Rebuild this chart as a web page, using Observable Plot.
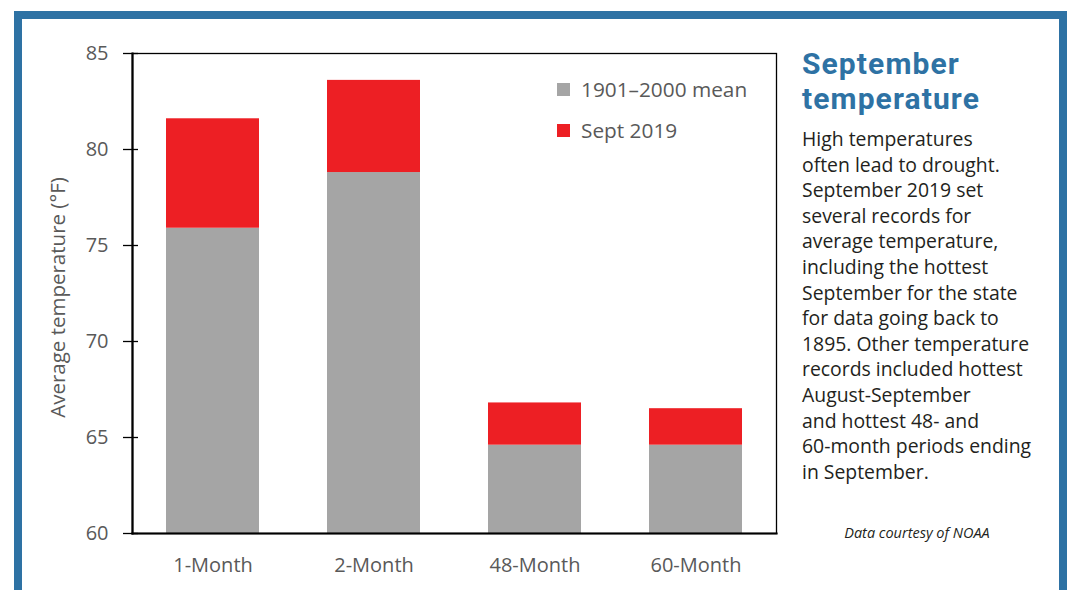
<!DOCTYPE html>
<html>
<head>
<meta charset="utf-8">
<script src="https://cdn.jsdelivr.net/npm/d3@7"></script>
<script src="https://cdn.jsdelivr.net/npm/@observablehq/plot@0.6"></script>
<style>
  html, body { margin: 0; padding: 0; background: #fff; }
  body { width: 1080px; height: 590px; overflow: hidden; position: relative; font-family: "Open Sans", sans-serif; }
  #frame { position: absolute; left: 14px; top: 11px; width: 1037px; height: 600px;
           border: 8px solid #2e72a4; border-bottom: none; }
  #chart { position: absolute; left: 0; top: 0; }
  #legend { position: absolute; left: 557px; top: 75px; font-size: 20.8px; color: #595959; }
  #legend .row { display: flex; align-items: center; height: 28px; margin-bottom: 13px; }
  #legend .sw { width: 13px; height: 13px; margin-right: 11px; }
  #side { position: absolute; left: 802px; top: 46px; width: 250px; }
  #side .t { margin: 0; font-family: Roboto, sans-serif; font-size: 30px; line-height: 35px; font-weight: 700; letter-spacing: 1.1px; color: #2e72a4; white-space: nowrap; }
  #side p { margin: 10px 0 0 0; font-size: 19.4px; line-height: 25.6px; color: #231f20; }
  #credit { position: absolute; left: 802px; width: 230px; top: 523px; text-align: center;
            font-size: 14.5px; font-style: italic; color: #231f20; }
</style>
</head>
<body>
<div id="frame"></div>
<div id="chart"></div>
<div id="legend"></div>
<div id="side">
  <div class="t">September</div>
  <div class="t">temperature</div>
  <p>High temperatures<br>often lead to drought.<br>September 2019 set<br>several records for<br>average temperature,<br>including the hottest<br>September for the state<br>for data going back to<br>1895. Other temperature<br>records included hottest<br>August-September<br>and hottest 48- and<br>60-month periods ending<br>in September.</p>
</div>
<div id="credit">Data courtesy of NOAA</div>
<script>
const categories = ["1-Month", "2-Month", "48-Month", "60-Month"];
const meanValues = [75.9, 78.8, 64.6, 64.6];      // 1901–2000 mean
const sept2019Values = [81.6, 83.6, 66.8, 66.5];  // Sept 2019
const yTicks = [60, 65, 70, 75, 80, 85];
const seriesNames = ["1901\u20132000 mean", "Sept 2019"];
const seriesColors = ["#a5a5a5", "#ed1f24"];
const yLabel = "Average temperature (\u00b0F)";

const yMin = yTicks[0], yMax = yTicks[yTicks.length - 1];
const rows = categories.map((c, i) => ({cat: c, mean: meanValues[i], sept: sept2019Values[i], base: yMin}));

const plot = Plot.plot({
  width: 780,
  height: 590,
  marginLeft: 132,
  marginRight: 4,
  marginTop: 53,
  marginBottom: 57,
  style: {fontFamily: "Open Sans, sans-serif", fontSize: "20px", color: "#595959", background: "transparent"},
  x: {domain: categories, paddingInner: 0.42, paddingOuter: 0.21, label: null},
  y: {domain: [yMin, yMax], label: null},
  marks: [
    Plot.barY(rows, {x: "cat", y1: "base", y2: "mean", fill: seriesColors[0]}),
    Plot.barY(rows, {x: "cat", y1: "mean", y2: "sept", fill: seriesColors[1]}),
    Plot.frame({stroke: "#000", strokeWidth: 1.3}),
    Plot.frame({anchor: "left", stroke: "#000", strokeWidth: 2.2}),
    Plot.frame({anchor: "bottom", stroke: "#000", strokeWidth: 2.2}),
    Plot.axisY({ticks: yTicks, tickSize: 15, dx: 6, tickFormat: () => "", stroke: "#000", strokeWidth: 1.3, label: null}),
    Plot.axisY({ticks: yTicks, tickSize: 0, tickPadding: 24, fill: "#595959", fontSize: 20, label: null}),
    Plot.axisX({tickSize: 0, tickPadding: 24, fill: "#595959", fontSize: 20, label: null}),
    Plot.text([yLabel], {frameAnchor: "left", rotate: -90, dx: -74, dy: 4, textAnchor: "middle", fill: "#595959", fontSize: 20.5, lineAnchor: "middle"})
  ]
});
document.getElementById("chart").appendChild(plot);

const legend = document.getElementById("legend");
seriesNames.forEach((n, i) => {
  const row = document.createElement("div");
  row.className = "row";
  const sw = document.createElement("div");
  sw.className = "sw";
  sw.style.background = seriesColors[i];
  const t = document.createElement("span");
  t.textContent = n;
  row.appendChild(sw); row.appendChild(t);
  legend.appendChild(row);
});
</script>
</body>
</html>
